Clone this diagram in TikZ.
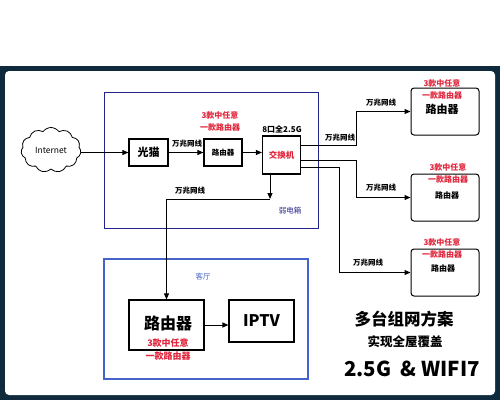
\documentclass[tikz,border=0pt]{standalone}
\usepackage{fontspec}
\setmainfont{Noto Sans CJK SC}
\usetikzlibrary{arrows.meta,shapes.symbols,calc}
\definecolor{framec}{HTML}{0E2A3C}
\definecolor{navyc}{HTML}{23238C}
\definecolor{bluec}{HTML}{4563C8}
\definecolor{redc}{HTML}{E0263C}
\newcommand{\fs}[1]{\fontsize{#1}{#1}\selectfont}
\begin{document}
\begin{tikzpicture}[x=1pt,y=-1pt,
  box/.style={draw,line width=1.2pt,inner sep=0pt},
  rbox/.style={draw,line width=1pt,rounded corners=3pt,inner sep=0pt,minimum width=68pt,minimum height=47pt},
  lbl/.style={font=\fs{7.5}\bfseries,inner sep=1pt},
  redlbl/.style={font=\fs{8}\bfseries,text=redc,align=center,inner sep=0pt},
  arr/.style={-{Triangle[length=6pt,width=5pt]},line width=1pt},
  ln/.style={line width=1pt}]
\useasboundingbox (0,0) rectangle (500,400);
\fill[white] (0,0) rectangle (500,400);
\fill[framec] (0,66) rectangle (500,400);
\fill[white, rounded corners=4pt] (5,71) rectangle (495,395);

% areas
\node[draw=navyc, line width=1pt, minimum width=214pt, minimum height=136pt, inner sep=0pt] (ruo) at (211,160) {};
\node[text=navyc, font=\fs{7.5}] (ruolbl) at (290,211) {弱电箱};
\node[draw=bluec, line width=1.2pt, minimum width=204pt, minimum height=120pt, inner sep=0pt] (ket) at (206,319) {};
\node[text=bluec, font=\fs{7.5}] (ketlbl) at (203,277) {客厅};

% nodes
\node[draw, cloud, cloud puffs=11, cloud puff arc=110, aspect=1.4, line width=0.8pt, minimum width=60pt, minimum height=45pt, inner sep=0pt, font=\fs{8.5}] (net) at (51,150) {Internet};
\node[box, minimum width=39pt, minimum height=27pt, font=\fs{11}\bfseries] (gm) at (148.5,152.5) {光猫};
\node[box, minimum width=38pt, minimum height=27pt, font=\fs{7.5}\bfseries] (r0) at (223,152.5) {路由器};
\node[redlbl] (r0lbl) at (220,121.5) {3款中任意\\[4pt]一款路由器};
\node[box, minimum width=38pt, minimum height=38pt, font=\fs{8.5}\bfseries, text=redc] (sw) at (281.5,155) {交换机};
\node[font=\fs{8}\bfseries, inner sep=0pt] (swlbl) at (282,129) {8口全2.5G};

\node[box, minimum width=75pt, minimum height=50pt] (lr) at (166.5,325) {};
\node[font=\fs{16}\bfseries, inner sep=0pt] (lrtxt) at (168,323) {路由器};
\node[redlbl, font=\fs{9}\bfseries] (lrr1) at (168,343) {3款中任意};
\node[redlbl, font=\fs{9}\bfseries] (lrr2) at (168,356) {一款路由器};
\node[box, minimum width=65pt, minimum height=42pt, font=\fs{16}\bfseries] (iptv) at (261.5,321) {IPTV};

\node[rbox] (r1) at (445,111.5) {};
\node[rbox] (r2) at (445,197.5) {};
\node[rbox] (r3) at (445,272.5) {};
\node[redlbl] (r1l) at (442,89) {3款中任意\\[4pt]一款路由器};
\node[redlbl] (r2l) at (448,173.5) {3款中任意\\[4pt]一款路由器};
\node[redlbl] (r3l) at (442,248) {3款中任意\\[4pt]一款路由器};
\node[font=\fs{11}\bfseries, inner sep=0pt] (r1t) at (442,109) {路由器};
\node[font=\fs{8}\bfseries, inner sep=0pt] (r2t) at (447,195) {路由器};
\node[font=\fs{8}\bfseries, inner sep=0pt] (r3t) at (443,268) {路由器};

% connectors
\draw[arr] (net.east |- gm.west) -- (gm.west);
\draw[arr] (gm.east) -- (r0.west);
\draw[arr] (r0.east) -- (sw.west |- r0.east);
\node[lbl] (l1) at (187,144) {万兆网线};

\coordinate (j) at (270,199);
\draw[arr] (sw.south -| j) -- (j);
\draw[arr] (j) -| (lr.north);
\node[lbl] (l2) at (190,191) {万兆网线};
\draw[arr] (lr.east) -- (lr.east -| iptv.west);

\coordinate (s1) at ($(sw.north east)!0.26!(sw.south east)$);
\coordinate (s2) at ($(sw.north east)!0.63!(sw.south east)$);
\coordinate (s3) at ($(sw.north east)!0.82!(sw.south east)$);
\draw[arr] (s1) -- ++(55,0) |- (r1.west);
\draw[arr] (s2) -- ++(55,0) |- (r2.west);
\draw[arr] (s3) -- ++(38,0) |- (r3.west);
\node[lbl] (l3) at (340,138) {万兆网线};
\node[lbl] (l4) at (381,103) {万兆网线};
\node[lbl] (l5) at (381,188) {万兆网线};
\node[lbl] (l6) at (368,263) {万兆网线};

% slogan
\node[font=\fs{16.5}\bfseries, inner sep=0pt] (t1) at (404,319) {多台组网方案};
\node[font=\fs{12.5}\bfseries, inner sep=0pt] (t2) at (405,342) {实现全屋覆盖};
\node[font=\fs{20.5}\bfseries, inner sep=0pt] (t3) at (412,369) {2.5G\ \ \&\ WIFI7};
\end{tikzpicture}
\end{document}
